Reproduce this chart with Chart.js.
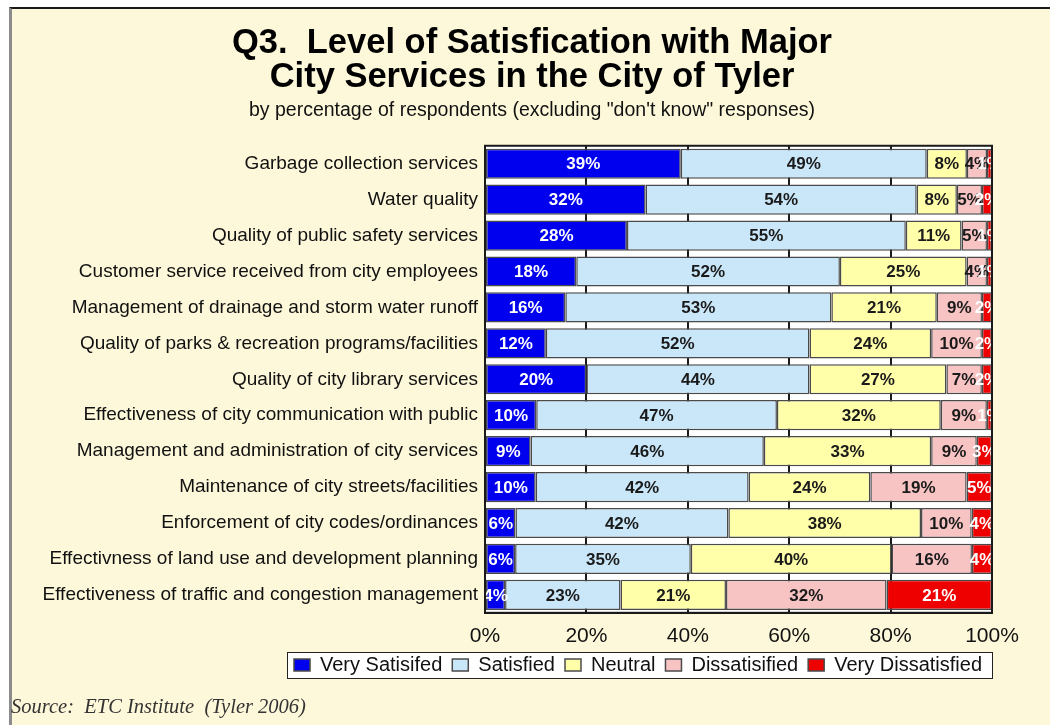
<!DOCTYPE html>
<html>
<head>
<meta charset="utf-8">
<title>Q3. Level of Satisfication with Major City Services</title>
<script src="https://cdn.jsdelivr.net/npm/chart.js@4/dist/chart.umd.min.js"></script>
<style>
  html, body { margin: 0; padding: 0; background: #fff; }
  #frame {
    position: absolute; left: 9px; top: 7px; width: 1045px; height: 720px;
    background: #fdf8da; border-top: 2px solid #1a1a1a; border-left: 3px solid #8c8c8c;
  }
  #chart { position: absolute; left: 0; top: 0; }
</style>
</head>
<body>
<div id="frame"></div>
<canvas id="chart" width="1050" height="725"></canvas>
<script>
const services = [
  "Garbage collection services",
  "Water quality",
  "Quality of public safety services",
  "Customer service received from city employees",
  "Management of drainage and storm water runoff",
  "Quality of parks & recreation programs/facilities",
  "Quality of city library services",
  "Effectiveness of city communication with public",
  "Management and administration of city services",
  "Maintenance of city streets/facilities",
  "Enforcement of city codes/ordinances",
  "Effectivness of land use and development planning",
  "Effectiveness of traffic and congestion management",
];
const verySatisfied = [39, 32, 28, 18, 16, 12, 20, 10, 9, 10, 6, 6, 4];
const satisfied = [49, 54, 55, 52, 53, 52, 44, 47, 46, 42, 42, 35, 23];
const neutral = [8, 8, 11, 25, 21, 24, 27, 32, 33, 24, 38, 40, 21];
const dissatisfied = [4, 5, 5, 4, 9, 10, 7, 9, 9, 19, 10, 16, 32];
const veryDissatisfied = [1, 2, 1, 1, 2, 2, 2, 1, 3, 5, 4, 4, 21];
const xTicks = [0, 20, 40, 60, 80, 100];

const SANS = '"Liberation Sans", Arial, sans-serif';
Chart.defaults.font.family = SANS;
Chart.defaults.color = "#111";

// 100% stacked like the original: each row is scaled to its own total
const rowTotals = services.map((_, i) =>
  verySatisfied[i] + satisfied[i] + neutral[i] + dissatisfied[i] + veryDissatisfied[i]);
const share = (arr) => arr.map((v, i) => (v / rowTotals[i]) * 100);

const seriesDefs = [
  { label: "Very Satisifed", values: verySatisfied, color: "#0000ee", text: "#ffffff" },
  { label: "Satisfied", values: satisfied, color: "#cae7f9", text: "#1a1a1a" },
  { label: "Neutral", values: neutral, color: "#ffffaa", text: "#1a1a1a" },
  { label: "Dissatisified", values: dissatisfied, color: "#f7c3c3", text: "#1a1a1a" },
  { label: "Very Dissatisfied", values: veryDissatisfied, color: "#ee0000", text: "#ffffff" },
];

const backgroundPlugin = {
  id: "plot-background",
  afterLayout(chart) {
    // let the long category names draw past the layout padding
    chart.scales.y.left = 8;
  },
  beforeDraw(chart) {
    const { ctx, chartArea: a, legend } = chart;
    ctx.save();
    ctx.fillStyle = "#ffffff";
    ctx.fillRect(a.left, a.top, a.right - a.left, a.bottom - a.top);
    const boxes = legend.legendHitBoxes;
    if (boxes && boxes.length) {
      const first = boxes[0];
      const last = boxes[boxes.length - 1];
      const x0 = first.left - 7;
      const x1 = last.left + last.width + 10;
      const y0 = first.top - 3;
      const y1 = first.top + first.height + 3;
      ctx.fillRect(x0, y0, x1 - x0, y1 - y0);
      ctx.strokeStyle = "#222";
      ctx.lineWidth = 1;
      ctx.strokeRect(x0 + 0.5, y0 + 0.5, x1 - x0, y1 - y0);
    }
    ctx.restore();
  },
};

const valueLabelPlugin = {
  id: "value-labels",
  afterDatasetsDraw(chart) {
    const { ctx, chartArea: a } = chart;
    ctx.save();
    ctx.beginPath();
    ctx.rect(a.left, a.top, a.right - a.left, a.bottom - a.top);
    ctx.clip();
    ctx.font = `bold 17px ${SANS}`;
    ctx.textAlign = "center";
    ctx.textBaseline = "middle";
    chart.data.datasets.forEach((dataset, di) => {
      const meta = chart.getDatasetMeta(di);
      meta.data.forEach((bar, i) => {
        const raw = seriesDefs[di].values[i];
        const cx = (bar.x + bar.base) / 2;
        ctx.fillStyle = seriesDefs[di].text;
        ctx.fillText(`${raw}%`, cx, bar.y + 1);
      });
    });
    ctx.restore();

    ctx.save();
    ctx.strokeStyle = "#1a1a1a";
    ctx.lineWidth = 2;
    ctx.strokeRect(a.left, a.top, a.right - a.left, a.bottom - a.top);
    ctx.restore();
  },
  afterDraw(chart) {
    const { ctx } = chart;
    ctx.save();
    ctx.font = 'italic 20.5px "Liberation Serif", "Times New Roman", serif';
    ctx.fillStyle = "#333";
    ctx.textAlign = "left";
    ctx.textBaseline = "alphabetic";
    ctx.fillText("Source:  ETC Institute  (Tyler 2006)", 11, 713);
    ctx.restore();
  },
};

new Chart(document.getElementById("chart"), {
  type: "bar",
  data: {
    labels: services,
    datasets: seriesDefs.map((s) => ({
      label: s.label,
      data: share(s.values),
      backgroundColor: s.color,
      borderColor: "#4a4a4a",
      borderWidth: 1.5,
      borderSkipped: false,
      categoryPercentage: 0.84,
      barPercentage: 1,
    })),
  },
  options: {
    indexAxis: "y",
    responsive: false,
    animation: false,
    layout: { padding: { top: 10, left: 72, right: 58, bottom: 40 } },
    plugins: {
      title: {
        display: true,
        text: ["Q3.  Level of Satisfication with Major", "City Services in the City of Tyler"],
        color: "#000",
        font: { size: 34.5, weight: "bold", lineHeight: 0.99 },
        padding: { top: 16, bottom: 6 },
      },
      subtitle: {
        display: true,
        text: 'by percentage of respondents (excluding "don\'t know" responses)',
        color: "#111",
        font: { size: 19.5, lineHeight: 1.1 },
        padding: { top: 0, bottom: 24 },
      },
      legend: {
        position: "bottom",
        align: "end",
        labels: {
          color: "#111",
          font: { size: 20 },
          boxWidth: 16,
          boxHeight: 12,
          padding: 10,
        },
      },
      tooltip: { enabled: false },
    },
    scales: {
      x: {
        stacked: true,
        min: 0,
        max: 100,
        afterBuildTicks(scale) {
          scale.ticks = xTicks.map((v) => ({ value: v }));
        },
        afterFit(scale) {
          scale.height -= 15;
        },
        ticks: {
          callback: (v) => `${v}%`,
          font: { size: 21 },
          color: "#111",
          padding: 11,
          maxRotation: 0,
        },
        grid: { color: "#1a1a1a", lineWidth: 2, drawTicks: false },
        border: { color: "#1a1a1a", width: 2 },
      },
      y: {
        stacked: true,
        afterFit(scale) {
          scale.width = 485 - 72;
        },
        ticks: { font: { size: 19 }, color: "#111", padding: 7, autoSkip: false },
        grid: { display: false, drawTicks: false },
        border: { color: "#1a1a1a", width: 2 },
      },
    },
  },
  plugins: [backgroundPlugin, valueLabelPlugin],
});
</script>
</body>
</html>
